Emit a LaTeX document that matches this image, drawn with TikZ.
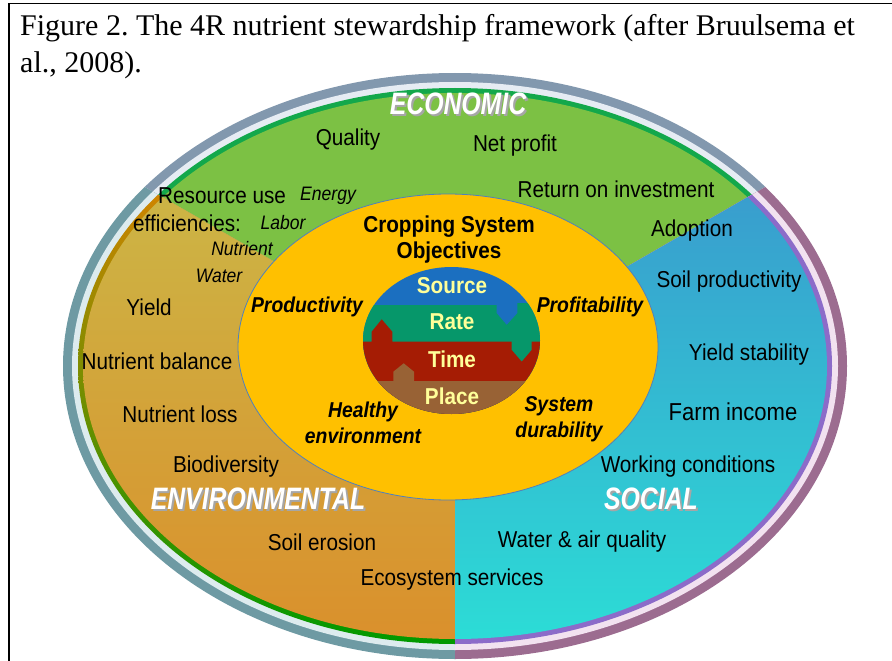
\documentclass[tikz,border=0pt]{standalone}
\usepackage{fontspec}
\setmainfont{Liberation Serif}
\newfontfamily\labelfont[FakeStretch=0.9]{Liberation Sans}
\newfontfamily\titlefont[FakeStretch=0.8]{Liberation Sans}
\frenchspacing

\definecolor{ecogreen}{HTML}{7CC144}
\definecolor{ecoband}{HTML}{13A84B}
\definecolor{ecoring}{HTML}{8298AE}
\definecolor{ecogap}{HTML}{E6ECF3}
\definecolor{envtop}{HTML}{C9BD4B}
\definecolor{envbottom}{HTML}{DA902C}
\definecolor{envring}{HTML}{6E9AA3}
\definecolor{envgap}{HTML}{DDEBEE}
\definecolor{soctop}{HTML}{3C8FCC}
\definecolor{socbottom}{HTML}{2CDCD6}
\definecolor{socband}{HTML}{8C6BC9}
\definecolor{socring}{HTML}{9C6C90}
\definecolor{socgap}{HTML}{F2E2F0}
\definecolor{objyellow}{HTML}{FFC000}
\definecolor{objline}{HTML}{4F81BD}
\definecolor{rsource}{HTML}{1B6FC0}
\definecolor{rrate}{HTML}{06976A}
\definecolor{rtime}{HTML}{A51C04}
\definecolor{rplace}{HTML}{986235}
\definecolor{rtext}{HTML}{FFFF99}

% white heading with a grey drop shadow
\newcommand{\shadowed}[1]{\rlap{\raisebox{-2pt}{\kern2pt\textcolor{black!35}{#1}}}#1}

\tikzset{
    item/.style={font=\labelfont\fontsize{23}{25}\selectfont, inner sep=0pt},
    sub/.style={font=\labelfont\itshape\fontsize{19.5}{21}\selectfont, inner sep=0pt},
    goal/.style={font=\labelfont\bfseries\itshape\fontsize{21.5}{26}\selectfont, align=center, inner sep=0pt},
    rlabel/.style={font=\labelfont\bfseries\fontsize{23}{25}\selectfont, text=rtext, inner sep=0pt},
    sector/.style={font=\titlefont\bfseries\itshape\fontsize{31}{33}\selectfont, text=white, inner sep=0pt},
    caption/.style={font=\fontsize{30}{37}\selectfont, inner sep=0pt, anchor=base west},
}

\begin{document}
\begin{tikzpicture}[x=1pt, y=-1pt]
    \useasboundingbox (0,0) rectangle (892,661);
    % frame around the figure
    \draw[line width=1.6pt] (900,3.5) -- (9,3.5) -- (9,670);
    \node[caption] (cap1) at (20,36) {Figure 2. The 4R nutrient stewardship framework (after Bruulsema et};
    \node[caption] (cap2) at (20,73) {al., 2008).};

    \coordinate (c) at (455,366);
    % Economic sector
    \begin{scope}
        \clip (c) -- (975,66) -- (975,-100) -- (-65,-100) -- (-65,66) -- cycle;
        \fill[ecoring] (c) ellipse [x radius=392, y radius=293];
        \fill[ecogap] (c) ellipse [x radius=383, y radius=284];
        \fill[ecoband] (c) ellipse [x radius=377, y radius=278];
        \fill[ecogreen] (c) ellipse [x radius=372, y radius=273];
    \end{scope}
    % Environmental sector
    \begin{scope}
        \clip (c) -- (-65,66) -- (-65,700) -- (455,700) -- cycle;
        \fill[envring] (c) ellipse [x radius=392, y radius=293];
        \fill[envgap] (c) ellipse [x radius=383, y radius=284];
        \shade[top color=orange, middle color=orange!80!yellow, bottom color=green!60!black] (c) ellipse [x radius=377, y radius=278];
        \shade[top color=envtop, bottom color=envbottom] (c) ellipse [x radius=372, y radius=273];
    \end{scope}
    % Social sector
    \begin{scope}
        \clip (c) -- (455,700) -- (975,700) -- (975,66) -- cycle;
        \fill[socring] (c) ellipse [x radius=392, y radius=293];
        \fill[socgap] (c) ellipse [x radius=383, y radius=284];
        \fill[socband] (c) ellipse [x radius=377, y radius=278];
        \shade[top color=soctop, bottom color=socbottom] (c) ellipse [x radius=372, y radius=273];
    \end{scope}

    % cropping system objectives
    \filldraw[fill=objyellow, draw=objline, line width=0.8pt] (448,347) ellipse [x radius=210, y radius=153];

    % the 4R bands
    \begin{scope}
        \clip (451.5,340.5) ellipse [x radius=88.5, y radius=73.5];
        \fill[rsource] (350,250) rectangle (560,430);
        \fill[rrate] (350,305) -- (496.7,305) -- (496.7,313.3) -- (506.7,325) -- (517.3,313.3) -- (517.3,303) -- (560,303) -- (560,430) -- (350,430) -- cycle;
        \fill[rtime] (350,341.7) -- (371.7,341.7) -- (371.7,331.7) -- (381.7,319.3) -- (392.3,331.7) -- (392.3,341.7) -- (511.7,341.7) -- (511.7,350) -- (521.7,361.7) -- (531.7,350) -- (531.7,341.7) -- (560,341.7) -- (560,430) -- (350,430) -- cycle;
        \fill[rplace] (350,381) -- (393.3,381) -- (393.3,371.7) -- (403.7,363.3) -- (414,371.7) -- (414,381) -- (560,381) -- (560,430) -- (350,430) -- cycle;
    \end{scope}

    \node[rlabel] (source) at (452,286) {Source};
    \node[rlabel] (rate) at (452,322) {Rate};
    \node[rlabel] (time) at (452,359) {Time};
    \node[rlabel] (place) at (452,396) {Place};

    \node[goal, font=\labelfont\bfseries\fontsize{23}{26}\selectfont] (crop) at (449,240) {Cropping System\\Objectives};
    \node[goal] (produ) at (307,307) {Productivity};
    \node[goal] (profi) at (590,307) {Profitability};
    \node[goal] (healthy) at (363,423) {Healthy\\environment};
    \node[goal] (durab) at (559,419) {System\\durability};

    % sector titles
    \node[sector] (eco) at (458,105) {\shadowed{ECONOMIC}};
    \node[sector] (env) at (258,500) {\shadowed{ENVIRONMENTAL}};
    \node[sector] (soc) at (651,500) {\shadowed{SOCIAL}};

    % economic
    \node[item] (quality) at (348,140) {Quality};
    \node[item] (netprofit) at (515,146) {Net profit};
    \node[item] (roi) at (616,189) {Return on investment};
    \node[item] (adoption) at (692,231) {Adoption};
    \node[item, anchor=west] (resuse) at (158,196) {Resource use};
    \node[item, anchor=west] (effic) at (133,223) {efficiencies:};
    \node[sub] (energy) at (328,196) {Energy};
    \node[sub] (labor) at (283,223) {Labor};
    \node[sub] (nutrient) at (242,249) {Nutrient};
    \node[sub] (water) at (219,276) {Water};
    % environmental
    \node[item] (yield) at (149,307) {Yield};
    \node[item] (nbalance) at (157,361) {Nutrient balance};
    \node[item] (nloss) at (180,414) {Nutrient loss};
    \node[item] (biodiv) at (226,467) {Biodiversity};
    \node[item] (erosion) at (322,542) {Soil erosion};
    \node[item] (ecosys) at (452,580) {Ecosystem services};
    % social
    \node[item] (waterair) at (582,542) {Water \& air quality};
    \node[item] (working) at (688,467) {Working conditions};
    \node[item, font=\labelfont\fontsize{24.5}{26}\selectfont] (income) at (733,412) {Farm income};
    \node[item] (ystab) at (749,355) {Yield stability};
    \node[item] (soilprod) at (729,282) {Soil productivity};
\end{tikzpicture}
\end{document}
